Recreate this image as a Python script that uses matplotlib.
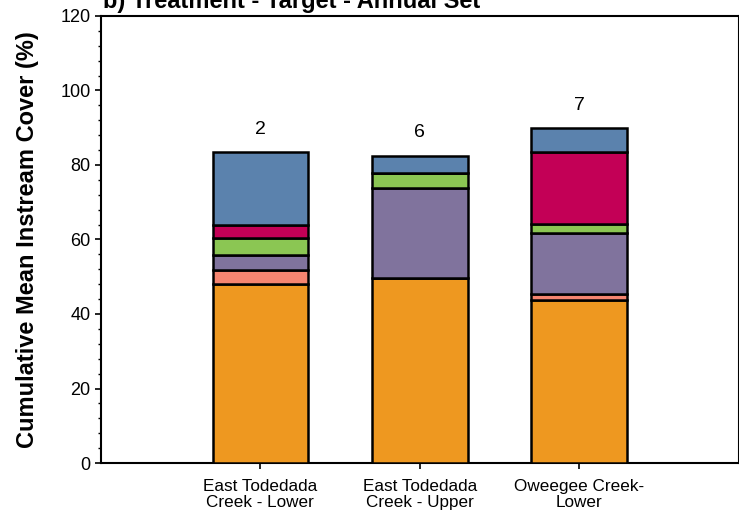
import matplotlib
matplotlib.use("Agg")
import matplotlib.pyplot as plt
import numpy as np
from matplotlib.ticker import MultipleLocator

# ---- data ----
sites = ["East Todedada\nCreek - Lower", "East Todedada\nCreek - Upper", "Oweegee Creek-\nLower"]
sample_sizes = ["2", "6", "7"]
orange_vals = [48.0, 49.7, 43.8]
salmon_vals = [3.9, 0.0, 1.7]
purple_vals = [3.9, 24.2, 16.2]
green_vals = [4.5, 4.0, 2.4]
red_vals = [3.6, 0.0, 19.3]
blue_vals = [19.5, 4.6, 6.4]

series = [orange_vals, salmon_vals, purple_vals, green_vals, red_vals, blue_vals]
colors = ["#EE9820", "#F58570", "#80739D", "#8BC653", "#C30056", "#5B82AD"]

title = "b) Treatment - Target - Annual Set"
ylabel = "Cumulative Mean Instream Cover (%)"

plt.rcParams["font.family"] = ["Liberation Sans", "DejaVu Sans"]

W, H = 739, 518
fig = plt.figure(figsize=(W / 100, H / 100), dpi=100)
ax = fig.add_axes([101 / W, 1 - 463 / H, (738.5 - 101) / W, (463 - 16) / H])

x = np.arange(len(sites))
bottom = np.zeros(len(sites))
for vals, c in zip(series, colors):
    ax.bar(x, vals, width=0.6, bottom=bottom, color=c, edgecolor="black",
           linewidth=1.8, zorder=3)
    bottom = bottom + np.array(vals)

for xi, tot, s in zip(x, bottom, sample_sizes):
    ax.text(xi, tot + 5.0, s, ha="center", va="baseline", fontsize=14)

ax.set_xlim(-1, 3)
ax.set_ylim(0, 120)
ax.yaxis.set_major_locator(MultipleLocator(20))
ax.yaxis.set_minor_locator(MultipleLocator(4))
ax.set_xticks(x)
ax.set_xticklabels(sites, fontsize=12.3, linespacing=1.05)
ax.tick_params(axis="y", which="major", direction="out", length=4.5, width=1.2,
               labelsize=13, pad=3)
ax.tick_params(axis="y", which="minor", direction="out", length=2.5, width=1.0)
ax.tick_params(axis="x", which="major", direction="out", length=4.5, width=1.2, pad=7)

for sp in ax.spines.values():
    sp.set_linewidth(1.5)
    sp.set_color("black")

ax.set_ylabel(ylabel, fontsize=17, fontweight="bold", labelpad=15)

fig.text(103 / W, 1 - 8 / H, title, ha="left", va="baseline",
         fontsize=17, fontweight="bold")

fig.savefig("out.png", dpi=100)
